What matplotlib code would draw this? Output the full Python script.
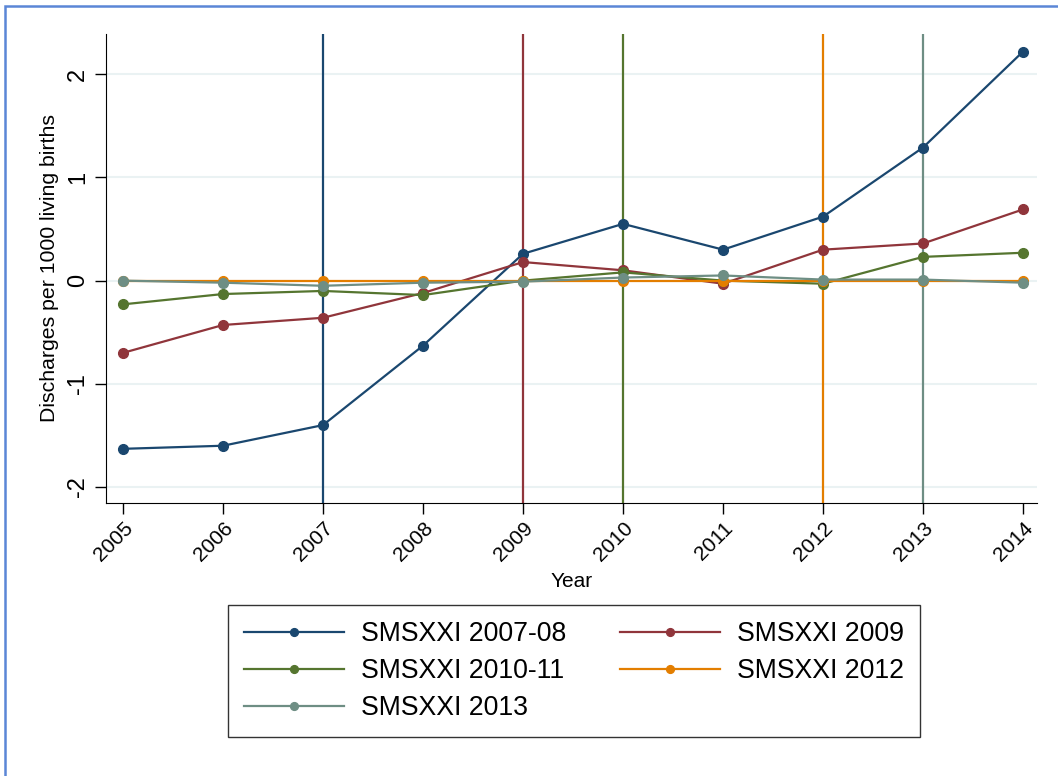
import numpy as np
import matplotlib.pyplot as plt
from matplotlib.patches import Rectangle

plt.rcParams['font.family'] = ['Liberation Sans', 'DejaVu Sans']
plt.rcParams['axes.unicode_minus'] = False

years = np.arange(2005, 2015)

smsxxi_0708 = [-1.63, -1.60, -1.40, -0.63, 0.26, 0.55, 0.30, 0.62, 1.29, 2.22]
smsxxi_2009 = [-0.70, -0.43, -0.36, -0.12, 0.18, 0.10, -0.03, 0.30, 0.36, 0.69]
smsxxi_1011 = [-0.23, -0.13, -0.10, -0.14, 0.00, 0.08, 0.00, -0.03, 0.23, 0.27]
smsxxi_2012 = [0.00, 0.00, 0.00, 0.00, 0.00, 0.00, 0.00, 0.00, 0.00, 0.00]
smsxxi_2013 = [0.00, -0.02, -0.05, -0.02, -0.01, 0.03, 0.05, 0.01, 0.01, -0.02]

labels = ['SMSXXI 2007-08', 'SMSXXI 2009', 'SMSXXI 2010-11', 'SMSXXI 2012', 'SMSXXI 2013']
series = [smsxxi_0708, smsxxi_2009, smsxxi_1011, smsxxi_2012, smsxxi_2013]
colors = ['#1a476f', '#90353b', '#55752f', '#e37e00', '#6e8e84']
intervention_years = [2007, 2009, 2010, 2012, 2013]

fig = plt.figure(figsize=(10.58, 7.76), dpi=100)
ax = fig.add_axes([0.1002, 0.3518, 0.8800, 0.6044])

# reference lines for each intervention year
for yr, c in zip(intervention_years, colors):
    ax.axvline(yr, color=c, lw=1.6, zorder=1)

handles = []
for vals, c, lab in zip(series, colors, labels):
    h, = ax.plot(years, vals, color=c, lw=1.6, marker='o', markersize=7,
                 label=lab, zorder=3)
    handles.append(h)

ax.set_xlim(2004.83, 2014.14)
ax.set_ylim(-2.155, 2.39)
ax.set_yticks([-2, -1, 0, 1, 2])
ax.set_xticks(years)
ax.grid(axis='y', color='#eaf2f3', lw=1.5, zorder=0)
ax.set_axisbelow(True)

for side in ['top', 'right']:
    ax.spines[side].set_visible(False)
ax.tick_params(axis='both', length=8, width=1, direction='out')
ax.tick_params(axis='y', labelsize=17, pad=4)
ax.tick_params(axis='x', labelsize=15, pad=3)
for t in ax.get_yticklabels():
    t.set_rotation(90)
    t.set_va('center')
for t in ax.get_xticklabels():
    t.set_rotation(45)
    t.set_ha('right')
    t.set_va('top')
    t.set_rotation_mode('anchor')

ax.set_xlabel('Year', fontsize=15, labelpad=5)
ax.set_ylabel('Discharges per 1000 living births', fontsize=15.3, labelpad=6)

order = [0, 2, 4, 1, 3]
leg = fig.legend([handles[i] for i in order], [labels[i] for i in order],
                 ncol=2, loc='upper left', bbox_to_anchor=(228 / 1058, 1 - 605 / 776),
                 borderaxespad=0, fontsize=19.2, frameon=True, fancybox=False,
                 edgecolor='black', handlelength=3.75, handletextpad=0.64,
                 columnspacing=2.0, labelspacing=0.42, borderpad=0.6,
                 markerscale=0.8)
leg.get_frame().set_linewidth(1.0)

# outer border of the graph region
fig.patches.append(Rectangle((5 / 1058, -0.05), 1.1, 1.05 - 6 / 776,
                             transform=fig.transFigure, fill=False,
                             edgecolor='#5b86d6', lw=1.8))

fig.savefig('out.png', dpi=100)
